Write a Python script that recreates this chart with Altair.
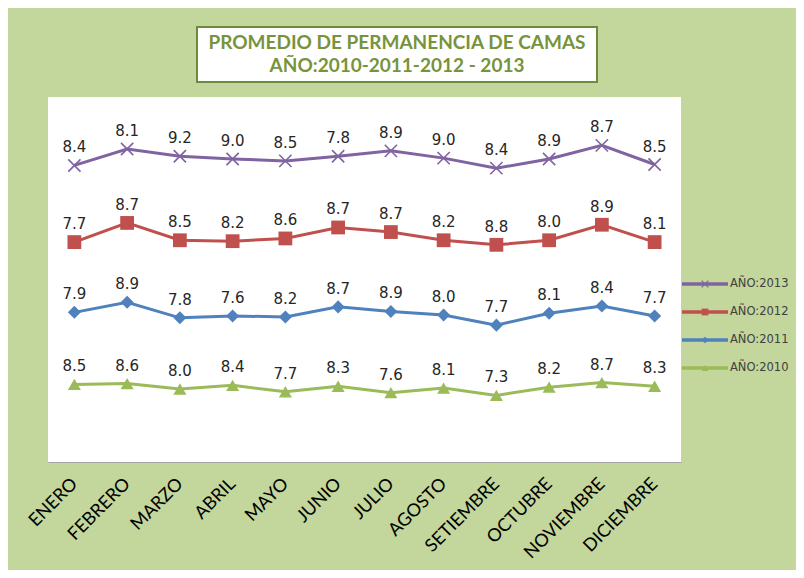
import altair as alt
import pandas as pd

meses = ["ENERO", "FEBRERO", "MARZO", "ABRIL", "MAYO", "JUNIO", "JULIO",
         "AGOSTO", "SETIEMBRE", "OCTUBRE", "NOVIEMBRE", "DICIEMBRE"]
series = ["AÑO:2010", "AÑO:2011", "AÑO:2012", "AÑO:2013"]
v2010 = [8.5, 8.6, 8.0, 8.4, 7.7, 8.3, 7.6, 8.1, 7.3, 8.2, 8.7, 8.3]
v2011 = [7.9, 8.9, 7.8, 7.6, 8.2, 8.7, 8.9, 8.0, 7.7, 8.1, 8.4, 7.7]
v2012 = [7.7, 8.7, 8.5, 8.2, 8.6, 8.7, 8.7, 8.2, 8.8, 8.0, 8.9, 8.1]
v2013 = [8.4, 8.1, 9.2, 9.0, 8.5, 7.8, 8.9, 9.0, 8.4, 8.9, 8.7, 8.5]
colores = ["#9BBB59", "#4F81BD", "#C0504D", "#8064A2"]
formas = ["triangle-up", "diamond", "square", "M-1,-1L1,1M-1,1L1,-1"]

rows = []
for si, (s, vals) in enumerate(zip(series, [v2010, v2011, v2012, v2013])):
    for m, v in zip(meses, vals):
        rows.append({"mes": m, "serie": s, "orden": si, "valor": v})
df = pd.DataFrame(rows)

W, H = 633, 365
color = alt.Color("serie:N", scale=alt.Scale(domain=series, range=colores), legend=None)
xenc = alt.X("mes:N", sort=meses, title=None,
             axis=alt.Axis(labelAngle=-45, labelAlign="right", labelBaseline="middle",
                           labelPadding=19, ticks=False, domainColor="#A6A6A6",
                           labelFont="Lato", labelFontSize=18, labelColor="#000000"))
yenc = alt.Y("y1:Q", axis=None, scale=alt.Scale(domain=[0, 40], nice=False))

base = alt.Chart(df).transform_stack(
    stack="valor", groupby=["mes"], as_=["y0", "y1"], sort=[alt.SortField("orden")]
)

lines = base.mark_line(strokeWidth=3).encode(x=xenc, y=yenc, color=color, detail="serie:N")

pts = []
sizes = [170, 170, 190, 150]
for i, s in enumerate(series):
    filled = i < 3
    pts.append(
        base.transform_filter(alt.datum.serie == s)
        .mark_point(shape=formas[i], filled=filled, size=sizes[i], opacity=1,
                    strokeWidth=1.6 if not filled else 1)
        .encode(x=xenc, y=yenc, color=color)
    )

labels = base.mark_text(dy=-18, font="DejaVu Sans", fontSize=15, color="#262626").encode(
    x=xenc, y=yenc, text=alt.Text("valor:Q", format=".1f")
)

one = pd.DataFrame({"k": [0]})
title_box = alt.Chart(one).mark_rect(fill="white", stroke="#6E8B3D", strokeWidth=2).encode(
    x=alt.value(149), x2=alt.value(549), y=alt.value(-70), y2=alt.value(-15)
)
t1 = alt.Chart(one).mark_text(font="Lato", fontSize=19, fontWeight="bold", color="#77933C").encode(
    x=alt.value(349), y=alt.value(-54), text=alt.value("PROMEDIO DE PERMANENCIA DE CAMAS")
)
t2 = alt.Chart(one).mark_text(font="Lato", fontSize=19, fontWeight="bold", color="#77933C").encode(
    x=alt.value(349), y=alt.value(-31), text=alt.value("AÑO:2010-2011-2012 - 2013")
)

leg = []
ley = pd.DataFrame({"serie": series})
for j, i in enumerate([3, 2, 1, 0]):
    s = series[i]
    yy = 187 + 28 * j
    d = alt.Chart(ley).transform_filter(alt.datum.serie == s)
    leg.append(d.mark_rule(strokeWidth=3.5, color=colores[i]).encode(
        x=alt.value(634), x2=alt.value(680), y=alt.value(yy)))
    leg.append(d.mark_point(shape=formas[i], filled=i < 3, size=45, opacity=1,
                            color=colores[i], strokeWidth=1.2).encode(
        x=alt.value(657), y=alt.value(yy)))
    leg.append(d.mark_text(align="left", font="DejaVu Sans", fontSize=11.5, color="#404040").encode(
        x=alt.value(682), y=alt.value(yy), text="serie:N"))

chart = alt.layer(lines, *pts, labels, title_box, t1, t2, *leg).properties(
    width=W, height=H, autosize="none",
    padding={"left": 40, "top": 89, "right": 115, "bottom": 108},
    background="#C3D69B",
).configure_view(fill="white", stroke=None)

chart.save("out.html", embed_options={"renderer": "svg", "actions": False})
